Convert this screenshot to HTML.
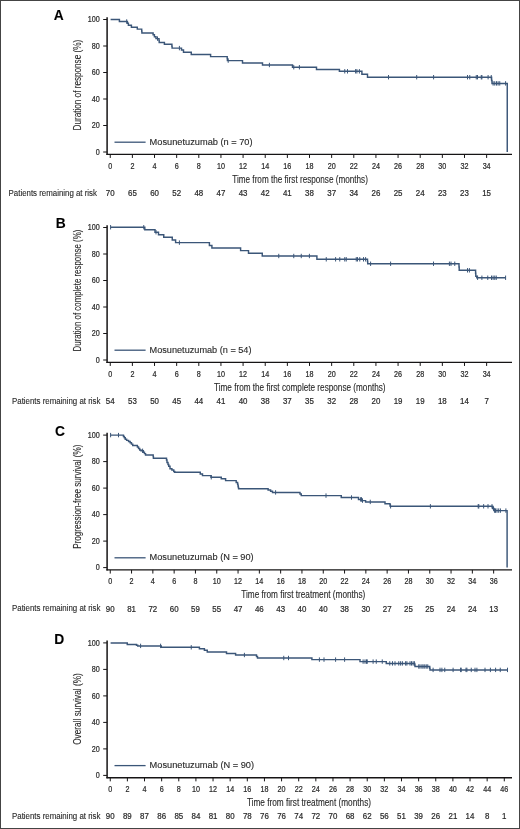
<!DOCTYPE html>
<html><head><meta charset="utf-8"><style>
html,body{margin:0;padding:0;background:#fff;}
svg{display:block;}
text{font-family:"Liberation Sans", sans-serif;stroke:#2a2a2a;stroke-width:0.12px;}
</style></head><body>
<svg style="will-change:transform" width="520" height="829" viewBox="0 0 520 829">
<rect x="0" y="0" width="520" height="829" fill="#fff"/>
<text x="53.8" y="19.6" font-weight="bold" font-size="13.8">A</text>
<line x1="107.1" y1="17.2" x2="107.1" y2="154.95" stroke="#161415" stroke-width="1.5"/>
<line x1="103.2" y1="152" x2="107" y2="152" stroke="#161415" stroke-width="1"/>
<text x="95.8" y="154.6" font-size="8.3" textLength="4" lengthAdjust="spacingAndGlyphs" fill="#2a2a2a" style="stroke-width:0.22px">0</text>
<line x1="103.2" y1="125.5" x2="107" y2="125.5" stroke="#161415" stroke-width="1"/>
<text x="91.8" y="128.1" font-size="8.3" textLength="8" lengthAdjust="spacingAndGlyphs" fill="#2a2a2a" style="stroke-width:0.22px">20</text>
<line x1="103.2" y1="99" x2="107" y2="99" stroke="#161415" stroke-width="1"/>
<text x="91.8" y="101.6" font-size="8.3" textLength="8" lengthAdjust="spacingAndGlyphs" fill="#2a2a2a" style="stroke-width:0.22px">40</text>
<line x1="103.2" y1="72.5" x2="107" y2="72.5" stroke="#161415" stroke-width="1"/>
<text x="91.8" y="75.1" font-size="8.3" textLength="8" lengthAdjust="spacingAndGlyphs" fill="#2a2a2a" style="stroke-width:0.22px">60</text>
<line x1="103.2" y1="46" x2="107" y2="46" stroke="#161415" stroke-width="1"/>
<text x="91.8" y="48.6" font-size="8.3" textLength="8" lengthAdjust="spacingAndGlyphs" fill="#2a2a2a" style="stroke-width:0.22px">80</text>
<line x1="103.2" y1="19.5" x2="107" y2="19.5" stroke="#161415" stroke-width="1"/>
<text x="87.8" y="22.1" font-size="8.3" textLength="12" lengthAdjust="spacingAndGlyphs" fill="#2a2a2a" style="stroke-width:0.22px">100</text>
<line x1="106.4" y1="154.35" x2="512" y2="154.35" stroke="#161415" stroke-width="1.3"/>
<line x1="110.25" y1="154.35" x2="110.25" y2="157.95" stroke="#161415" stroke-width="1"/>
<text x="108.25" y="168.6" font-size="8.3" textLength="4" lengthAdjust="spacingAndGlyphs" fill="#2a2a2a" style="stroke-width:0.22px">0</text>
<text x="105.85" y="195.9" font-size="8.6" textLength="8.8" lengthAdjust="spacingAndGlyphs" fill="#2a2a2a" style="stroke-width:0.22px">70</text>
<line x1="132.39" y1="154.35" x2="132.39" y2="157.95" stroke="#161415" stroke-width="1"/>
<text x="130.39" y="168.6" font-size="8.3" textLength="4" lengthAdjust="spacingAndGlyphs" fill="#2a2a2a" style="stroke-width:0.22px">2</text>
<text x="127.99" y="195.9" font-size="8.6" textLength="8.8" lengthAdjust="spacingAndGlyphs" fill="#2a2a2a" style="stroke-width:0.22px">65</text>
<line x1="154.53" y1="154.35" x2="154.53" y2="157.95" stroke="#161415" stroke-width="1"/>
<text x="152.53" y="168.6" font-size="8.3" textLength="4" lengthAdjust="spacingAndGlyphs" fill="#2a2a2a" style="stroke-width:0.22px">4</text>
<text x="150.13" y="195.9" font-size="8.6" textLength="8.8" lengthAdjust="spacingAndGlyphs" fill="#2a2a2a" style="stroke-width:0.22px">60</text>
<line x1="176.67" y1="154.35" x2="176.67" y2="157.95" stroke="#161415" stroke-width="1"/>
<text x="174.67" y="168.6" font-size="8.3" textLength="4" lengthAdjust="spacingAndGlyphs" fill="#2a2a2a" style="stroke-width:0.22px">6</text>
<text x="172.27" y="195.9" font-size="8.6" textLength="8.8" lengthAdjust="spacingAndGlyphs" fill="#2a2a2a" style="stroke-width:0.22px">52</text>
<line x1="198.81" y1="154.35" x2="198.81" y2="157.95" stroke="#161415" stroke-width="1"/>
<text x="196.81" y="168.6" font-size="8.3" textLength="4" lengthAdjust="spacingAndGlyphs" fill="#2a2a2a" style="stroke-width:0.22px">8</text>
<text x="194.41" y="195.9" font-size="8.6" textLength="8.8" lengthAdjust="spacingAndGlyphs" fill="#2a2a2a" style="stroke-width:0.22px">48</text>
<line x1="220.95" y1="154.35" x2="220.95" y2="157.95" stroke="#161415" stroke-width="1"/>
<text x="216.95" y="168.6" font-size="8.3" textLength="8" lengthAdjust="spacingAndGlyphs" fill="#2a2a2a" style="stroke-width:0.22px">10</text>
<text x="216.55" y="195.9" font-size="8.6" textLength="8.8" lengthAdjust="spacingAndGlyphs" fill="#2a2a2a" style="stroke-width:0.22px">47</text>
<line x1="243.09" y1="154.35" x2="243.09" y2="157.95" stroke="#161415" stroke-width="1"/>
<text x="239.09" y="168.6" font-size="8.3" textLength="8" lengthAdjust="spacingAndGlyphs" fill="#2a2a2a" style="stroke-width:0.22px">12</text>
<text x="238.69" y="195.9" font-size="8.6" textLength="8.8" lengthAdjust="spacingAndGlyphs" fill="#2a2a2a" style="stroke-width:0.22px">43</text>
<line x1="265.23" y1="154.35" x2="265.23" y2="157.95" stroke="#161415" stroke-width="1"/>
<text x="261.23" y="168.6" font-size="8.3" textLength="8" lengthAdjust="spacingAndGlyphs" fill="#2a2a2a" style="stroke-width:0.22px">14</text>
<text x="260.83" y="195.9" font-size="8.6" textLength="8.8" lengthAdjust="spacingAndGlyphs" fill="#2a2a2a" style="stroke-width:0.22px">42</text>
<line x1="287.37" y1="154.35" x2="287.37" y2="157.95" stroke="#161415" stroke-width="1"/>
<text x="283.37" y="168.6" font-size="8.3" textLength="8" lengthAdjust="spacingAndGlyphs" fill="#2a2a2a" style="stroke-width:0.22px">16</text>
<text x="282.97" y="195.9" font-size="8.6" textLength="8.8" lengthAdjust="spacingAndGlyphs" fill="#2a2a2a" style="stroke-width:0.22px">41</text>
<line x1="309.51" y1="154.35" x2="309.51" y2="157.95" stroke="#161415" stroke-width="1"/>
<text x="305.51" y="168.6" font-size="8.3" textLength="8" lengthAdjust="spacingAndGlyphs" fill="#2a2a2a" style="stroke-width:0.22px">18</text>
<text x="305.11" y="195.9" font-size="8.6" textLength="8.8" lengthAdjust="spacingAndGlyphs" fill="#2a2a2a" style="stroke-width:0.22px">38</text>
<line x1="331.65" y1="154.35" x2="331.65" y2="157.95" stroke="#161415" stroke-width="1"/>
<text x="327.65" y="168.6" font-size="8.3" textLength="8" lengthAdjust="spacingAndGlyphs" fill="#2a2a2a" style="stroke-width:0.22px">20</text>
<text x="327.25" y="195.9" font-size="8.6" textLength="8.8" lengthAdjust="spacingAndGlyphs" fill="#2a2a2a" style="stroke-width:0.22px">37</text>
<line x1="353.79" y1="154.35" x2="353.79" y2="157.95" stroke="#161415" stroke-width="1"/>
<text x="349.79" y="168.6" font-size="8.3" textLength="8" lengthAdjust="spacingAndGlyphs" fill="#2a2a2a" style="stroke-width:0.22px">22</text>
<text x="349.39" y="195.9" font-size="8.6" textLength="8.8" lengthAdjust="spacingAndGlyphs" fill="#2a2a2a" style="stroke-width:0.22px">34</text>
<line x1="375.93" y1="154.35" x2="375.93" y2="157.95" stroke="#161415" stroke-width="1"/>
<text x="371.93" y="168.6" font-size="8.3" textLength="8" lengthAdjust="spacingAndGlyphs" fill="#2a2a2a" style="stroke-width:0.22px">24</text>
<text x="371.53" y="195.9" font-size="8.6" textLength="8.8" lengthAdjust="spacingAndGlyphs" fill="#2a2a2a" style="stroke-width:0.22px">26</text>
<line x1="398.07" y1="154.35" x2="398.07" y2="157.95" stroke="#161415" stroke-width="1"/>
<text x="394.07" y="168.6" font-size="8.3" textLength="8" lengthAdjust="spacingAndGlyphs" fill="#2a2a2a" style="stroke-width:0.22px">26</text>
<text x="393.67" y="195.9" font-size="8.6" textLength="8.8" lengthAdjust="spacingAndGlyphs" fill="#2a2a2a" style="stroke-width:0.22px">25</text>
<line x1="420.21" y1="154.35" x2="420.21" y2="157.95" stroke="#161415" stroke-width="1"/>
<text x="416.21" y="168.6" font-size="8.3" textLength="8" lengthAdjust="spacingAndGlyphs" fill="#2a2a2a" style="stroke-width:0.22px">28</text>
<text x="415.81" y="195.9" font-size="8.6" textLength="8.8" lengthAdjust="spacingAndGlyphs" fill="#2a2a2a" style="stroke-width:0.22px">24</text>
<line x1="442.35" y1="154.35" x2="442.35" y2="157.95" stroke="#161415" stroke-width="1"/>
<text x="438.35" y="168.6" font-size="8.3" textLength="8" lengthAdjust="spacingAndGlyphs" fill="#2a2a2a" style="stroke-width:0.22px">30</text>
<text x="437.95" y="195.9" font-size="8.6" textLength="8.8" lengthAdjust="spacingAndGlyphs" fill="#2a2a2a" style="stroke-width:0.22px">23</text>
<line x1="464.49" y1="154.35" x2="464.49" y2="157.95" stroke="#161415" stroke-width="1"/>
<text x="460.49" y="168.6" font-size="8.3" textLength="8" lengthAdjust="spacingAndGlyphs" fill="#2a2a2a" style="stroke-width:0.22px">32</text>
<text x="460.09" y="195.9" font-size="8.6" textLength="8.8" lengthAdjust="spacingAndGlyphs" fill="#2a2a2a" style="stroke-width:0.22px">23</text>
<line x1="486.63" y1="154.35" x2="486.63" y2="157.95" stroke="#161415" stroke-width="1"/>
<text x="482.63" y="168.6" font-size="8.3" textLength="8" lengthAdjust="spacingAndGlyphs" fill="#2a2a2a" style="stroke-width:0.22px">34</text>
<text x="482.23" y="195.9" font-size="8.6" textLength="8.8" lengthAdjust="spacingAndGlyphs" fill="#2a2a2a" style="stroke-width:0.22px">15</text>
<text x="232.3" y="182.5" font-size="10.2" textLength="135.6" lengthAdjust="spacingAndGlyphs" fill="#2a2a2a">Time from the first response (months)</text>
<text transform="translate(80.9,130.5) rotate(-90)" x="0" y="0" font-size="10.4" textLength="90.7" lengthAdjust="spacingAndGlyphs" fill="#2a2a2a">Duration of response (%)</text>
<text x="8.6" y="195.6" font-size="8.3" textLength="88.4" lengthAdjust="spacingAndGlyphs" fill="#2a2a2a">Patients remaining at risk</text>
<line x1="114.5" y1="142.2" x2="145.6" y2="142.2" stroke="#3b5678" stroke-width="1.3"/>
<text x="149.6" y="144.7" font-size="8.5" textLength="103" lengthAdjust="spacingAndGlyphs" fill="#2a2a2a">Mosunetuzumab (n = 70)</text>
<path d="M110.6,19.5H119.4V21.5H127.4V23.3H128.4V25.3H131.4V27.2H137.3V29.1H141.7V31H141.9V33H153.1V34.8H154.4V36.7H156V38.6H159V40.5H159.2V42.4H164.4V44.3H171.9V46.2H172.1V48.1H181.5V50H183.5V52.2H191.25V54.5H210.6V56.6H227.2V58.6H227.4V60.6H242.5V62.9H262.5V65H292.5V67.25H316.5V69.4H339.4V71.3H361.9V74.3H367.5V77.2H491.6V80.4H492V83.4H507.25V152" fill="none" stroke="#3b5678" stroke-width="1.45" stroke-linejoin="miter"/>
<path d="M126.7,19.3V23.7M157.5,36.4V40.8M179.4,45.9V50.3M228.2,58.4V62.8M269.4,62.8V67.2M293.75,65.05V69.45M299.4,65.05V69.45M344.75,69.1V73.5M347.5,69.1V73.5M355.6,69.1V73.5M356.9,69.1V73.5M359.4,69.1V73.5M388.5,75V79.4M416.7,75V79.4M433.6,75V79.4M467.5,75V79.4M469.75,75V79.4M476.25,75V79.4M477.5,75V79.4M481.25,75V79.4M481.9,75V79.4M488.1,75V79.4M491.25,75V79.4M493.1,81.2V85.6M494.75,81.2V85.6M496.5,81.2V85.6M498.1,81.2V85.6M499.75,81.2V85.6M505.6,81.2V85.6" fill="none" stroke="#3b5678" stroke-width="1"/>
<text x="55.8" y="227.8" font-weight="bold" font-size="13.8">B</text>
<line x1="107.1" y1="225.2" x2="107.1" y2="362.95" stroke="#161415" stroke-width="1.5"/>
<line x1="103.2" y1="360" x2="107" y2="360" stroke="#161415" stroke-width="1"/>
<text x="95.8" y="362.6" font-size="8.3" textLength="4" lengthAdjust="spacingAndGlyphs" fill="#2a2a2a" style="stroke-width:0.22px">0</text>
<line x1="103.2" y1="333.5" x2="107" y2="333.5" stroke="#161415" stroke-width="1"/>
<text x="91.8" y="336.1" font-size="8.3" textLength="8" lengthAdjust="spacingAndGlyphs" fill="#2a2a2a" style="stroke-width:0.22px">20</text>
<line x1="103.2" y1="307" x2="107" y2="307" stroke="#161415" stroke-width="1"/>
<text x="91.8" y="309.6" font-size="8.3" textLength="8" lengthAdjust="spacingAndGlyphs" fill="#2a2a2a" style="stroke-width:0.22px">40</text>
<line x1="103.2" y1="280.5" x2="107" y2="280.5" stroke="#161415" stroke-width="1"/>
<text x="91.8" y="283.1" font-size="8.3" textLength="8" lengthAdjust="spacingAndGlyphs" fill="#2a2a2a" style="stroke-width:0.22px">60</text>
<line x1="103.2" y1="254" x2="107" y2="254" stroke="#161415" stroke-width="1"/>
<text x="91.8" y="256.6" font-size="8.3" textLength="8" lengthAdjust="spacingAndGlyphs" fill="#2a2a2a" style="stroke-width:0.22px">80</text>
<line x1="103.2" y1="227.5" x2="107" y2="227.5" stroke="#161415" stroke-width="1"/>
<text x="87.8" y="230.1" font-size="8.3" textLength="12" lengthAdjust="spacingAndGlyphs" fill="#2a2a2a" style="stroke-width:0.22px">100</text>
<line x1="106.4" y1="362.35" x2="512" y2="362.35" stroke="#161415" stroke-width="1.3"/>
<line x1="110.25" y1="362.35" x2="110.25" y2="365.95" stroke="#161415" stroke-width="1"/>
<text x="108.25" y="376.6" font-size="8.3" textLength="4" lengthAdjust="spacingAndGlyphs" fill="#2a2a2a" style="stroke-width:0.22px">0</text>
<text x="105.85" y="403.9" font-size="8.6" textLength="8.8" lengthAdjust="spacingAndGlyphs" fill="#2a2a2a" style="stroke-width:0.22px">54</text>
<line x1="132.39" y1="362.35" x2="132.39" y2="365.95" stroke="#161415" stroke-width="1"/>
<text x="130.39" y="376.6" font-size="8.3" textLength="4" lengthAdjust="spacingAndGlyphs" fill="#2a2a2a" style="stroke-width:0.22px">2</text>
<text x="127.99" y="403.9" font-size="8.6" textLength="8.8" lengthAdjust="spacingAndGlyphs" fill="#2a2a2a" style="stroke-width:0.22px">53</text>
<line x1="154.53" y1="362.35" x2="154.53" y2="365.95" stroke="#161415" stroke-width="1"/>
<text x="152.53" y="376.6" font-size="8.3" textLength="4" lengthAdjust="spacingAndGlyphs" fill="#2a2a2a" style="stroke-width:0.22px">4</text>
<text x="150.13" y="403.9" font-size="8.6" textLength="8.8" lengthAdjust="spacingAndGlyphs" fill="#2a2a2a" style="stroke-width:0.22px">50</text>
<line x1="176.67" y1="362.35" x2="176.67" y2="365.95" stroke="#161415" stroke-width="1"/>
<text x="174.67" y="376.6" font-size="8.3" textLength="4" lengthAdjust="spacingAndGlyphs" fill="#2a2a2a" style="stroke-width:0.22px">6</text>
<text x="172.27" y="403.9" font-size="8.6" textLength="8.8" lengthAdjust="spacingAndGlyphs" fill="#2a2a2a" style="stroke-width:0.22px">45</text>
<line x1="198.81" y1="362.35" x2="198.81" y2="365.95" stroke="#161415" stroke-width="1"/>
<text x="196.81" y="376.6" font-size="8.3" textLength="4" lengthAdjust="spacingAndGlyphs" fill="#2a2a2a" style="stroke-width:0.22px">8</text>
<text x="194.41" y="403.9" font-size="8.6" textLength="8.8" lengthAdjust="spacingAndGlyphs" fill="#2a2a2a" style="stroke-width:0.22px">44</text>
<line x1="220.95" y1="362.35" x2="220.95" y2="365.95" stroke="#161415" stroke-width="1"/>
<text x="216.95" y="376.6" font-size="8.3" textLength="8" lengthAdjust="spacingAndGlyphs" fill="#2a2a2a" style="stroke-width:0.22px">10</text>
<text x="216.55" y="403.9" font-size="8.6" textLength="8.8" lengthAdjust="spacingAndGlyphs" fill="#2a2a2a" style="stroke-width:0.22px">41</text>
<line x1="243.09" y1="362.35" x2="243.09" y2="365.95" stroke="#161415" stroke-width="1"/>
<text x="239.09" y="376.6" font-size="8.3" textLength="8" lengthAdjust="spacingAndGlyphs" fill="#2a2a2a" style="stroke-width:0.22px">12</text>
<text x="238.69" y="403.9" font-size="8.6" textLength="8.8" lengthAdjust="spacingAndGlyphs" fill="#2a2a2a" style="stroke-width:0.22px">40</text>
<line x1="265.23" y1="362.35" x2="265.23" y2="365.95" stroke="#161415" stroke-width="1"/>
<text x="261.23" y="376.6" font-size="8.3" textLength="8" lengthAdjust="spacingAndGlyphs" fill="#2a2a2a" style="stroke-width:0.22px">14</text>
<text x="260.83" y="403.9" font-size="8.6" textLength="8.8" lengthAdjust="spacingAndGlyphs" fill="#2a2a2a" style="stroke-width:0.22px">38</text>
<line x1="287.37" y1="362.35" x2="287.37" y2="365.95" stroke="#161415" stroke-width="1"/>
<text x="283.37" y="376.6" font-size="8.3" textLength="8" lengthAdjust="spacingAndGlyphs" fill="#2a2a2a" style="stroke-width:0.22px">16</text>
<text x="282.97" y="403.9" font-size="8.6" textLength="8.8" lengthAdjust="spacingAndGlyphs" fill="#2a2a2a" style="stroke-width:0.22px">37</text>
<line x1="309.51" y1="362.35" x2="309.51" y2="365.95" stroke="#161415" stroke-width="1"/>
<text x="305.51" y="376.6" font-size="8.3" textLength="8" lengthAdjust="spacingAndGlyphs" fill="#2a2a2a" style="stroke-width:0.22px">18</text>
<text x="305.11" y="403.9" font-size="8.6" textLength="8.8" lengthAdjust="spacingAndGlyphs" fill="#2a2a2a" style="stroke-width:0.22px">35</text>
<line x1="331.65" y1="362.35" x2="331.65" y2="365.95" stroke="#161415" stroke-width="1"/>
<text x="327.65" y="376.6" font-size="8.3" textLength="8" lengthAdjust="spacingAndGlyphs" fill="#2a2a2a" style="stroke-width:0.22px">20</text>
<text x="327.25" y="403.9" font-size="8.6" textLength="8.8" lengthAdjust="spacingAndGlyphs" fill="#2a2a2a" style="stroke-width:0.22px">32</text>
<line x1="353.79" y1="362.35" x2="353.79" y2="365.95" stroke="#161415" stroke-width="1"/>
<text x="349.79" y="376.6" font-size="8.3" textLength="8" lengthAdjust="spacingAndGlyphs" fill="#2a2a2a" style="stroke-width:0.22px">22</text>
<text x="349.39" y="403.9" font-size="8.6" textLength="8.8" lengthAdjust="spacingAndGlyphs" fill="#2a2a2a" style="stroke-width:0.22px">28</text>
<line x1="375.93" y1="362.35" x2="375.93" y2="365.95" stroke="#161415" stroke-width="1"/>
<text x="371.93" y="376.6" font-size="8.3" textLength="8" lengthAdjust="spacingAndGlyphs" fill="#2a2a2a" style="stroke-width:0.22px">24</text>
<text x="371.53" y="403.9" font-size="8.6" textLength="8.8" lengthAdjust="spacingAndGlyphs" fill="#2a2a2a" style="stroke-width:0.22px">20</text>
<line x1="398.07" y1="362.35" x2="398.07" y2="365.95" stroke="#161415" stroke-width="1"/>
<text x="394.07" y="376.6" font-size="8.3" textLength="8" lengthAdjust="spacingAndGlyphs" fill="#2a2a2a" style="stroke-width:0.22px">26</text>
<text x="393.67" y="403.9" font-size="8.6" textLength="8.8" lengthAdjust="spacingAndGlyphs" fill="#2a2a2a" style="stroke-width:0.22px">19</text>
<line x1="420.21" y1="362.35" x2="420.21" y2="365.95" stroke="#161415" stroke-width="1"/>
<text x="416.21" y="376.6" font-size="8.3" textLength="8" lengthAdjust="spacingAndGlyphs" fill="#2a2a2a" style="stroke-width:0.22px">28</text>
<text x="415.81" y="403.9" font-size="8.6" textLength="8.8" lengthAdjust="spacingAndGlyphs" fill="#2a2a2a" style="stroke-width:0.22px">19</text>
<line x1="442.35" y1="362.35" x2="442.35" y2="365.95" stroke="#161415" stroke-width="1"/>
<text x="438.35" y="376.6" font-size="8.3" textLength="8" lengthAdjust="spacingAndGlyphs" fill="#2a2a2a" style="stroke-width:0.22px">30</text>
<text x="437.95" y="403.9" font-size="8.6" textLength="8.8" lengthAdjust="spacingAndGlyphs" fill="#2a2a2a" style="stroke-width:0.22px">18</text>
<line x1="464.49" y1="362.35" x2="464.49" y2="365.95" stroke="#161415" stroke-width="1"/>
<text x="460.49" y="376.6" font-size="8.3" textLength="8" lengthAdjust="spacingAndGlyphs" fill="#2a2a2a" style="stroke-width:0.22px">32</text>
<text x="460.09" y="403.9" font-size="8.6" textLength="8.8" lengthAdjust="spacingAndGlyphs" fill="#2a2a2a" style="stroke-width:0.22px">14</text>
<line x1="486.63" y1="362.35" x2="486.63" y2="365.95" stroke="#161415" stroke-width="1"/>
<text x="482.63" y="376.6" font-size="8.3" textLength="8" lengthAdjust="spacingAndGlyphs" fill="#2a2a2a" style="stroke-width:0.22px">34</text>
<text x="484.43" y="403.9" font-size="8.6" textLength="4.4" lengthAdjust="spacingAndGlyphs" fill="#2a2a2a" style="stroke-width:0.22px">7</text>
<text x="214" y="390.5" font-size="10.2" textLength="171.6" lengthAdjust="spacingAndGlyphs" fill="#2a2a2a">Time from the first complete response (months)</text>
<text transform="translate(80.9,351.4) rotate(-90)" x="0" y="0" font-size="10.4" textLength="121.7" lengthAdjust="spacingAndGlyphs" fill="#2a2a2a">Duration of complete response (%)</text>
<text x="12" y="403.6" font-size="8.3" textLength="88.4" lengthAdjust="spacingAndGlyphs" fill="#2a2a2a">Patients remaining at risk</text>
<line x1="114.5" y1="350.2" x2="145.6" y2="350.2" stroke="#3b5678" stroke-width="1.3"/>
<text x="149.6" y="352.7" font-size="8.5" textLength="101.9" lengthAdjust="spacingAndGlyphs" fill="#2a2a2a">Mosunetuzumab (n = 54)</text>
<path d="M110.6,227.25H144.8V229.75H155V232.2H158.5V234.75H163.75V237.25H172.25V240H175.6V242.6H209.4V245.4H211.9V248H240.6V250.6H248.5V253.3H262.25V256H316.9V259.3H367.5V261.5H367.7V263.75H459V267H459.2V270.3H475.6V273.3H475.8V276.25H476.8V277.75H505.6" fill="none" stroke="#3b5678" stroke-width="1.45" stroke-linejoin="miter"/>
<path d="M110.6,225.05V229.45M143.75,225.05V229.45M156,230V234.4M179.4,240.4V244.8M278.75,253.8V258.2M293.75,253.8V258.2M301.25,253.8V258.2M309.4,253.8V258.2M326.25,257.1V261.5M335.6,257.1V261.5M339.75,257.1V261.5M344.75,257.1V261.5M346.25,257.1V261.5M356.25,257.1V261.5M357.5,257.1V261.5M359.75,257.1V261.5M363.5,257.1V261.5M365.6,257.1V261.5M370.6,261.55V265.95M390.6,261.55V265.95M433.5,261.55V265.95M449.4,261.55V265.95M451,261.55V265.95M454.75,261.55V265.95M467.5,268.1V272.5M469.4,268.1V272.5M477.6,275.55V279.95M481.9,275.55V279.95M487.75,275.55V279.95M491.5,275.55V279.95M493.1,275.55V279.95M494.75,275.55V279.95M496.25,275.55V279.95M505.6,275.55V279.95" fill="none" stroke="#3b5678" stroke-width="1"/>
<text x="55" y="436.1" font-weight="bold" font-size="13.8">C</text>
<line x1="107.1" y1="432.8" x2="107.1" y2="570.55" stroke="#161415" stroke-width="1.5"/>
<line x1="103.2" y1="567.6" x2="107" y2="567.6" stroke="#161415" stroke-width="1"/>
<text x="95.8" y="570.2" font-size="8.3" textLength="4" lengthAdjust="spacingAndGlyphs" fill="#2a2a2a" style="stroke-width:0.22px">0</text>
<line x1="103.2" y1="541.1" x2="107" y2="541.1" stroke="#161415" stroke-width="1"/>
<text x="91.8" y="543.7" font-size="8.3" textLength="8" lengthAdjust="spacingAndGlyphs" fill="#2a2a2a" style="stroke-width:0.22px">20</text>
<line x1="103.2" y1="514.6" x2="107" y2="514.6" stroke="#161415" stroke-width="1"/>
<text x="91.8" y="517.2" font-size="8.3" textLength="8" lengthAdjust="spacingAndGlyphs" fill="#2a2a2a" style="stroke-width:0.22px">40</text>
<line x1="103.2" y1="488.1" x2="107" y2="488.1" stroke="#161415" stroke-width="1"/>
<text x="91.8" y="490.7" font-size="8.3" textLength="8" lengthAdjust="spacingAndGlyphs" fill="#2a2a2a" style="stroke-width:0.22px">60</text>
<line x1="103.2" y1="461.6" x2="107" y2="461.6" stroke="#161415" stroke-width="1"/>
<text x="91.8" y="464.2" font-size="8.3" textLength="8" lengthAdjust="spacingAndGlyphs" fill="#2a2a2a" style="stroke-width:0.22px">80</text>
<line x1="103.2" y1="435.1" x2="107" y2="435.1" stroke="#161415" stroke-width="1"/>
<text x="87.8" y="437.7" font-size="8.3" textLength="12" lengthAdjust="spacingAndGlyphs" fill="#2a2a2a" style="stroke-width:0.22px">100</text>
<line x1="106.4" y1="569.95" x2="512" y2="569.95" stroke="#161415" stroke-width="1.3"/>
<line x1="110.25" y1="569.95" x2="110.25" y2="573.55" stroke="#161415" stroke-width="1"/>
<text x="108.25" y="584.2" font-size="8.3" textLength="4" lengthAdjust="spacingAndGlyphs" fill="#2a2a2a" style="stroke-width:0.22px">0</text>
<text x="105.85" y="611.5" font-size="8.6" textLength="8.8" lengthAdjust="spacingAndGlyphs" fill="#2a2a2a" style="stroke-width:0.22px">90</text>
<line x1="131.55" y1="569.95" x2="131.55" y2="573.55" stroke="#161415" stroke-width="1"/>
<text x="129.55" y="584.2" font-size="8.3" textLength="4" lengthAdjust="spacingAndGlyphs" fill="#2a2a2a" style="stroke-width:0.22px">2</text>
<text x="127.15" y="611.5" font-size="8.6" textLength="8.8" lengthAdjust="spacingAndGlyphs" fill="#2a2a2a" style="stroke-width:0.22px">81</text>
<line x1="152.85" y1="569.95" x2="152.85" y2="573.55" stroke="#161415" stroke-width="1"/>
<text x="150.85" y="584.2" font-size="8.3" textLength="4" lengthAdjust="spacingAndGlyphs" fill="#2a2a2a" style="stroke-width:0.22px">4</text>
<text x="148.45" y="611.5" font-size="8.6" textLength="8.8" lengthAdjust="spacingAndGlyphs" fill="#2a2a2a" style="stroke-width:0.22px">72</text>
<line x1="174.15" y1="569.95" x2="174.15" y2="573.55" stroke="#161415" stroke-width="1"/>
<text x="172.15" y="584.2" font-size="8.3" textLength="4" lengthAdjust="spacingAndGlyphs" fill="#2a2a2a" style="stroke-width:0.22px">6</text>
<text x="169.75" y="611.5" font-size="8.6" textLength="8.8" lengthAdjust="spacingAndGlyphs" fill="#2a2a2a" style="stroke-width:0.22px">60</text>
<line x1="195.45" y1="569.95" x2="195.45" y2="573.55" stroke="#161415" stroke-width="1"/>
<text x="193.45" y="584.2" font-size="8.3" textLength="4" lengthAdjust="spacingAndGlyphs" fill="#2a2a2a" style="stroke-width:0.22px">8</text>
<text x="191.05" y="611.5" font-size="8.6" textLength="8.8" lengthAdjust="spacingAndGlyphs" fill="#2a2a2a" style="stroke-width:0.22px">59</text>
<line x1="216.75" y1="569.95" x2="216.75" y2="573.55" stroke="#161415" stroke-width="1"/>
<text x="212.75" y="584.2" font-size="8.3" textLength="8" lengthAdjust="spacingAndGlyphs" fill="#2a2a2a" style="stroke-width:0.22px">10</text>
<text x="212.35" y="611.5" font-size="8.6" textLength="8.8" lengthAdjust="spacingAndGlyphs" fill="#2a2a2a" style="stroke-width:0.22px">55</text>
<line x1="238.05" y1="569.95" x2="238.05" y2="573.55" stroke="#161415" stroke-width="1"/>
<text x="234.05" y="584.2" font-size="8.3" textLength="8" lengthAdjust="spacingAndGlyphs" fill="#2a2a2a" style="stroke-width:0.22px">12</text>
<text x="233.65" y="611.5" font-size="8.6" textLength="8.8" lengthAdjust="spacingAndGlyphs" fill="#2a2a2a" style="stroke-width:0.22px">47</text>
<line x1="259.35" y1="569.95" x2="259.35" y2="573.55" stroke="#161415" stroke-width="1"/>
<text x="255.35" y="584.2" font-size="8.3" textLength="8" lengthAdjust="spacingAndGlyphs" fill="#2a2a2a" style="stroke-width:0.22px">14</text>
<text x="254.95" y="611.5" font-size="8.6" textLength="8.8" lengthAdjust="spacingAndGlyphs" fill="#2a2a2a" style="stroke-width:0.22px">46</text>
<line x1="280.65" y1="569.95" x2="280.65" y2="573.55" stroke="#161415" stroke-width="1"/>
<text x="276.65" y="584.2" font-size="8.3" textLength="8" lengthAdjust="spacingAndGlyphs" fill="#2a2a2a" style="stroke-width:0.22px">16</text>
<text x="276.25" y="611.5" font-size="8.6" textLength="8.8" lengthAdjust="spacingAndGlyphs" fill="#2a2a2a" style="stroke-width:0.22px">43</text>
<line x1="301.95" y1="569.95" x2="301.95" y2="573.55" stroke="#161415" stroke-width="1"/>
<text x="297.95" y="584.2" font-size="8.3" textLength="8" lengthAdjust="spacingAndGlyphs" fill="#2a2a2a" style="stroke-width:0.22px">18</text>
<text x="297.55" y="611.5" font-size="8.6" textLength="8.8" lengthAdjust="spacingAndGlyphs" fill="#2a2a2a" style="stroke-width:0.22px">40</text>
<line x1="323.25" y1="569.95" x2="323.25" y2="573.55" stroke="#161415" stroke-width="1"/>
<text x="319.25" y="584.2" font-size="8.3" textLength="8" lengthAdjust="spacingAndGlyphs" fill="#2a2a2a" style="stroke-width:0.22px">20</text>
<text x="318.85" y="611.5" font-size="8.6" textLength="8.8" lengthAdjust="spacingAndGlyphs" fill="#2a2a2a" style="stroke-width:0.22px">40</text>
<line x1="344.55" y1="569.95" x2="344.55" y2="573.55" stroke="#161415" stroke-width="1"/>
<text x="340.55" y="584.2" font-size="8.3" textLength="8" lengthAdjust="spacingAndGlyphs" fill="#2a2a2a" style="stroke-width:0.22px">22</text>
<text x="340.15" y="611.5" font-size="8.6" textLength="8.8" lengthAdjust="spacingAndGlyphs" fill="#2a2a2a" style="stroke-width:0.22px">38</text>
<line x1="365.85" y1="569.95" x2="365.85" y2="573.55" stroke="#161415" stroke-width="1"/>
<text x="361.85" y="584.2" font-size="8.3" textLength="8" lengthAdjust="spacingAndGlyphs" fill="#2a2a2a" style="stroke-width:0.22px">24</text>
<text x="361.45" y="611.5" font-size="8.6" textLength="8.8" lengthAdjust="spacingAndGlyphs" fill="#2a2a2a" style="stroke-width:0.22px">30</text>
<line x1="387.15" y1="569.95" x2="387.15" y2="573.55" stroke="#161415" stroke-width="1"/>
<text x="383.15" y="584.2" font-size="8.3" textLength="8" lengthAdjust="spacingAndGlyphs" fill="#2a2a2a" style="stroke-width:0.22px">26</text>
<text x="382.75" y="611.5" font-size="8.6" textLength="8.8" lengthAdjust="spacingAndGlyphs" fill="#2a2a2a" style="stroke-width:0.22px">27</text>
<line x1="408.45" y1="569.95" x2="408.45" y2="573.55" stroke="#161415" stroke-width="1"/>
<text x="404.45" y="584.2" font-size="8.3" textLength="8" lengthAdjust="spacingAndGlyphs" fill="#2a2a2a" style="stroke-width:0.22px">28</text>
<text x="404.05" y="611.5" font-size="8.6" textLength="8.8" lengthAdjust="spacingAndGlyphs" fill="#2a2a2a" style="stroke-width:0.22px">25</text>
<line x1="429.75" y1="569.95" x2="429.75" y2="573.55" stroke="#161415" stroke-width="1"/>
<text x="425.75" y="584.2" font-size="8.3" textLength="8" lengthAdjust="spacingAndGlyphs" fill="#2a2a2a" style="stroke-width:0.22px">30</text>
<text x="425.35" y="611.5" font-size="8.6" textLength="8.8" lengthAdjust="spacingAndGlyphs" fill="#2a2a2a" style="stroke-width:0.22px">25</text>
<line x1="451.05" y1="569.95" x2="451.05" y2="573.55" stroke="#161415" stroke-width="1"/>
<text x="447.05" y="584.2" font-size="8.3" textLength="8" lengthAdjust="spacingAndGlyphs" fill="#2a2a2a" style="stroke-width:0.22px">32</text>
<text x="446.65" y="611.5" font-size="8.6" textLength="8.8" lengthAdjust="spacingAndGlyphs" fill="#2a2a2a" style="stroke-width:0.22px">24</text>
<line x1="472.35" y1="569.95" x2="472.35" y2="573.55" stroke="#161415" stroke-width="1"/>
<text x="468.35" y="584.2" font-size="8.3" textLength="8" lengthAdjust="spacingAndGlyphs" fill="#2a2a2a" style="stroke-width:0.22px">34</text>
<text x="467.95" y="611.5" font-size="8.6" textLength="8.8" lengthAdjust="spacingAndGlyphs" fill="#2a2a2a" style="stroke-width:0.22px">24</text>
<line x1="493.65" y1="569.95" x2="493.65" y2="573.55" stroke="#161415" stroke-width="1"/>
<text x="489.65" y="584.2" font-size="8.3" textLength="8" lengthAdjust="spacingAndGlyphs" fill="#2a2a2a" style="stroke-width:0.22px">36</text>
<text x="489.25" y="611.5" font-size="8.6" textLength="8.8" lengthAdjust="spacingAndGlyphs" fill="#2a2a2a" style="stroke-width:0.22px">13</text>
<text x="241.25" y="598.1" font-size="10.2" textLength="124" lengthAdjust="spacingAndGlyphs" fill="#2a2a2a">Time from first treatment (months)</text>
<text transform="translate(80.9,548.7) rotate(-90)" x="0" y="0" font-size="10.4" textLength="104.1" lengthAdjust="spacingAndGlyphs" fill="#2a2a2a">Progression-free survival (%)</text>
<text x="12" y="611.2" font-size="8.3" textLength="88.4" lengthAdjust="spacingAndGlyphs" fill="#2a2a2a">Patients remaining at risk</text>
<line x1="114.5" y1="557.8" x2="145.6" y2="557.8" stroke="#3b5678" stroke-width="1.3"/>
<text x="149.6" y="560.3" font-size="8.5" textLength="104.05" lengthAdjust="spacingAndGlyphs" fill="#2a2a2a">Mosunetuzumab (N = 90)</text>
<path d="M110.6,435.1H123.45V436.47H124.35V437.83H125.25V439.2H126.65V440.35H128.55V441.5H130.15V442.8H131.45V444.1H132.75V445.4H137.38V446.93H138.55V448.47H139.72V450H141V450.8H143.35V452.2H144.45V453.6H145.55V455H153.2V456.6H153.4V458.2H166.5V460H167V462.5H168V464.5H168.75V466.25H170V468.75H171.9V470H173.75V471.5H174.75V472.25H200.25V474H202.5V475.6H211V477.25H221.25V478.75H225.6V480.6H236.2V482.5H237.6V484.2H238V486H238.3V487.5H238.6V488.75H268.1V490H270.6V491.25H272.5V492.4H300V494H301.25V495.6H341.25V497.5H358.5V499.4H362V500.6H365.6V501.9H385V503.75H390V505H390.2V506.3H492.65V508.5H494V510.6H507.1V567.6" fill="none" stroke="#3b5678" stroke-width="1.45" stroke-linejoin="miter"/>
<path d="M110.6,432.9V437.3M118.5,432.9V437.3M142.6,448.6V453M211.25,475.05V479.45M275.6,490.2V494.6M326,493.4V497.8M351.5,495.3V499.7M360.6,497.2V501.6M361.5,497.2V501.6M362.5,498.4V502.8M370.25,499.7V504.1M390.6,504.1V508.5M430.4,504.1V508.5M478.2,504.1V508.5M478.8,504.1V508.5M483.65,504.1V508.5M488,504.1V508.5M492,504.1V508.5M493.5,506.3V510.7M494.6,508.4V512.8M495.5,508.4V512.8M497,508.4V512.8M498.7,508.4V512.8M500.4,508.4V512.8M505.9,508.4V512.8" fill="none" stroke="#3b5678" stroke-width="1"/>
<text x="54.2" y="643.9" font-weight="bold" font-size="13.8">D</text>
<line x1="107.1" y1="640.6" x2="107.1" y2="778.35" stroke="#161415" stroke-width="1.5"/>
<line x1="103.2" y1="775.4" x2="107" y2="775.4" stroke="#161415" stroke-width="1"/>
<text x="95.8" y="778" font-size="8.3" textLength="4" lengthAdjust="spacingAndGlyphs" fill="#2a2a2a" style="stroke-width:0.22px">0</text>
<line x1="103.2" y1="748.9" x2="107" y2="748.9" stroke="#161415" stroke-width="1"/>
<text x="91.8" y="751.5" font-size="8.3" textLength="8" lengthAdjust="spacingAndGlyphs" fill="#2a2a2a" style="stroke-width:0.22px">20</text>
<line x1="103.2" y1="722.4" x2="107" y2="722.4" stroke="#161415" stroke-width="1"/>
<text x="91.8" y="725" font-size="8.3" textLength="8" lengthAdjust="spacingAndGlyphs" fill="#2a2a2a" style="stroke-width:0.22px">40</text>
<line x1="103.2" y1="695.9" x2="107" y2="695.9" stroke="#161415" stroke-width="1"/>
<text x="91.8" y="698.5" font-size="8.3" textLength="8" lengthAdjust="spacingAndGlyphs" fill="#2a2a2a" style="stroke-width:0.22px">60</text>
<line x1="103.2" y1="669.4" x2="107" y2="669.4" stroke="#161415" stroke-width="1"/>
<text x="91.8" y="672" font-size="8.3" textLength="8" lengthAdjust="spacingAndGlyphs" fill="#2a2a2a" style="stroke-width:0.22px">80</text>
<line x1="103.2" y1="642.9" x2="107" y2="642.9" stroke="#161415" stroke-width="1"/>
<text x="87.8" y="645.5" font-size="8.3" textLength="12" lengthAdjust="spacingAndGlyphs" fill="#2a2a2a" style="stroke-width:0.22px">100</text>
<line x1="106.4" y1="777.75" x2="512" y2="777.75" stroke="#161415" stroke-width="1.3"/>
<line x1="110.25" y1="777.75" x2="110.25" y2="781.35" stroke="#161415" stroke-width="1"/>
<text x="108.25" y="792" font-size="8.3" textLength="4" lengthAdjust="spacingAndGlyphs" fill="#2a2a2a" style="stroke-width:0.22px">0</text>
<text x="105.85" y="819.3" font-size="8.6" textLength="8.8" lengthAdjust="spacingAndGlyphs" fill="#2a2a2a" style="stroke-width:0.22px">90</text>
<line x1="127.38" y1="777.75" x2="127.38" y2="781.35" stroke="#161415" stroke-width="1"/>
<text x="125.38" y="792" font-size="8.3" textLength="4" lengthAdjust="spacingAndGlyphs" fill="#2a2a2a" style="stroke-width:0.22px">2</text>
<text x="122.98" y="819.3" font-size="8.6" textLength="8.8" lengthAdjust="spacingAndGlyphs" fill="#2a2a2a" style="stroke-width:0.22px">89</text>
<line x1="144.51" y1="777.75" x2="144.51" y2="781.35" stroke="#161415" stroke-width="1"/>
<text x="142.51" y="792" font-size="8.3" textLength="4" lengthAdjust="spacingAndGlyphs" fill="#2a2a2a" style="stroke-width:0.22px">4</text>
<text x="140.11" y="819.3" font-size="8.6" textLength="8.8" lengthAdjust="spacingAndGlyphs" fill="#2a2a2a" style="stroke-width:0.22px">87</text>
<line x1="161.65" y1="777.75" x2="161.65" y2="781.35" stroke="#161415" stroke-width="1"/>
<text x="159.65" y="792" font-size="8.3" textLength="4" lengthAdjust="spacingAndGlyphs" fill="#2a2a2a" style="stroke-width:0.22px">6</text>
<text x="157.25" y="819.3" font-size="8.6" textLength="8.8" lengthAdjust="spacingAndGlyphs" fill="#2a2a2a" style="stroke-width:0.22px">86</text>
<line x1="178.78" y1="777.75" x2="178.78" y2="781.35" stroke="#161415" stroke-width="1"/>
<text x="176.78" y="792" font-size="8.3" textLength="4" lengthAdjust="spacingAndGlyphs" fill="#2a2a2a" style="stroke-width:0.22px">8</text>
<text x="174.38" y="819.3" font-size="8.6" textLength="8.8" lengthAdjust="spacingAndGlyphs" fill="#2a2a2a" style="stroke-width:0.22px">85</text>
<line x1="195.91" y1="777.75" x2="195.91" y2="781.35" stroke="#161415" stroke-width="1"/>
<text x="191.91" y="792" font-size="8.3" textLength="8" lengthAdjust="spacingAndGlyphs" fill="#2a2a2a" style="stroke-width:0.22px">10</text>
<text x="191.51" y="819.3" font-size="8.6" textLength="8.8" lengthAdjust="spacingAndGlyphs" fill="#2a2a2a" style="stroke-width:0.22px">84</text>
<line x1="213.04" y1="777.75" x2="213.04" y2="781.35" stroke="#161415" stroke-width="1"/>
<text x="209.04" y="792" font-size="8.3" textLength="8" lengthAdjust="spacingAndGlyphs" fill="#2a2a2a" style="stroke-width:0.22px">12</text>
<text x="208.64" y="819.3" font-size="8.6" textLength="8.8" lengthAdjust="spacingAndGlyphs" fill="#2a2a2a" style="stroke-width:0.22px">81</text>
<line x1="230.17" y1="777.75" x2="230.17" y2="781.35" stroke="#161415" stroke-width="1"/>
<text x="226.17" y="792" font-size="8.3" textLength="8" lengthAdjust="spacingAndGlyphs" fill="#2a2a2a" style="stroke-width:0.22px">14</text>
<text x="225.77" y="819.3" font-size="8.6" textLength="8.8" lengthAdjust="spacingAndGlyphs" fill="#2a2a2a" style="stroke-width:0.22px">80</text>
<line x1="247.31" y1="777.75" x2="247.31" y2="781.35" stroke="#161415" stroke-width="1"/>
<text x="243.31" y="792" font-size="8.3" textLength="8" lengthAdjust="spacingAndGlyphs" fill="#2a2a2a" style="stroke-width:0.22px">16</text>
<text x="242.91" y="819.3" font-size="8.6" textLength="8.8" lengthAdjust="spacingAndGlyphs" fill="#2a2a2a" style="stroke-width:0.22px">78</text>
<line x1="264.44" y1="777.75" x2="264.44" y2="781.35" stroke="#161415" stroke-width="1"/>
<text x="260.44" y="792" font-size="8.3" textLength="8" lengthAdjust="spacingAndGlyphs" fill="#2a2a2a" style="stroke-width:0.22px">18</text>
<text x="260.04" y="819.3" font-size="8.6" textLength="8.8" lengthAdjust="spacingAndGlyphs" fill="#2a2a2a" style="stroke-width:0.22px">76</text>
<line x1="281.57" y1="777.75" x2="281.57" y2="781.35" stroke="#161415" stroke-width="1"/>
<text x="277.57" y="792" font-size="8.3" textLength="8" lengthAdjust="spacingAndGlyphs" fill="#2a2a2a" style="stroke-width:0.22px">20</text>
<text x="277.17" y="819.3" font-size="8.6" textLength="8.8" lengthAdjust="spacingAndGlyphs" fill="#2a2a2a" style="stroke-width:0.22px">76</text>
<line x1="298.7" y1="777.75" x2="298.7" y2="781.35" stroke="#161415" stroke-width="1"/>
<text x="294.7" y="792" font-size="8.3" textLength="8" lengthAdjust="spacingAndGlyphs" fill="#2a2a2a" style="stroke-width:0.22px">22</text>
<text x="294.3" y="819.3" font-size="8.6" textLength="8.8" lengthAdjust="spacingAndGlyphs" fill="#2a2a2a" style="stroke-width:0.22px">74</text>
<line x1="315.83" y1="777.75" x2="315.83" y2="781.35" stroke="#161415" stroke-width="1"/>
<text x="311.83" y="792" font-size="8.3" textLength="8" lengthAdjust="spacingAndGlyphs" fill="#2a2a2a" style="stroke-width:0.22px">24</text>
<text x="311.43" y="819.3" font-size="8.6" textLength="8.8" lengthAdjust="spacingAndGlyphs" fill="#2a2a2a" style="stroke-width:0.22px">72</text>
<line x1="332.97" y1="777.75" x2="332.97" y2="781.35" stroke="#161415" stroke-width="1"/>
<text x="328.97" y="792" font-size="8.3" textLength="8" lengthAdjust="spacingAndGlyphs" fill="#2a2a2a" style="stroke-width:0.22px">26</text>
<text x="328.57" y="819.3" font-size="8.6" textLength="8.8" lengthAdjust="spacingAndGlyphs" fill="#2a2a2a" style="stroke-width:0.22px">70</text>
<line x1="350.1" y1="777.75" x2="350.1" y2="781.35" stroke="#161415" stroke-width="1"/>
<text x="346.1" y="792" font-size="8.3" textLength="8" lengthAdjust="spacingAndGlyphs" fill="#2a2a2a" style="stroke-width:0.22px">28</text>
<text x="345.7" y="819.3" font-size="8.6" textLength="8.8" lengthAdjust="spacingAndGlyphs" fill="#2a2a2a" style="stroke-width:0.22px">68</text>
<line x1="367.23" y1="777.75" x2="367.23" y2="781.35" stroke="#161415" stroke-width="1"/>
<text x="363.23" y="792" font-size="8.3" textLength="8" lengthAdjust="spacingAndGlyphs" fill="#2a2a2a" style="stroke-width:0.22px">30</text>
<text x="362.83" y="819.3" font-size="8.6" textLength="8.8" lengthAdjust="spacingAndGlyphs" fill="#2a2a2a" style="stroke-width:0.22px">62</text>
<line x1="384.36" y1="777.75" x2="384.36" y2="781.35" stroke="#161415" stroke-width="1"/>
<text x="380.36" y="792" font-size="8.3" textLength="8" lengthAdjust="spacingAndGlyphs" fill="#2a2a2a" style="stroke-width:0.22px">32</text>
<text x="379.96" y="819.3" font-size="8.6" textLength="8.8" lengthAdjust="spacingAndGlyphs" fill="#2a2a2a" style="stroke-width:0.22px">56</text>
<line x1="401.49" y1="777.75" x2="401.49" y2="781.35" stroke="#161415" stroke-width="1"/>
<text x="397.49" y="792" font-size="8.3" textLength="8" lengthAdjust="spacingAndGlyphs" fill="#2a2a2a" style="stroke-width:0.22px">34</text>
<text x="397.09" y="819.3" font-size="8.6" textLength="8.8" lengthAdjust="spacingAndGlyphs" fill="#2a2a2a" style="stroke-width:0.22px">51</text>
<line x1="418.63" y1="777.75" x2="418.63" y2="781.35" stroke="#161415" stroke-width="1"/>
<text x="414.63" y="792" font-size="8.3" textLength="8" lengthAdjust="spacingAndGlyphs" fill="#2a2a2a" style="stroke-width:0.22px">36</text>
<text x="414.23" y="819.3" font-size="8.6" textLength="8.8" lengthAdjust="spacingAndGlyphs" fill="#2a2a2a" style="stroke-width:0.22px">39</text>
<line x1="435.76" y1="777.75" x2="435.76" y2="781.35" stroke="#161415" stroke-width="1"/>
<text x="431.76" y="792" font-size="8.3" textLength="8" lengthAdjust="spacingAndGlyphs" fill="#2a2a2a" style="stroke-width:0.22px">38</text>
<text x="431.36" y="819.3" font-size="8.6" textLength="8.8" lengthAdjust="spacingAndGlyphs" fill="#2a2a2a" style="stroke-width:0.22px">26</text>
<line x1="452.89" y1="777.75" x2="452.89" y2="781.35" stroke="#161415" stroke-width="1"/>
<text x="448.89" y="792" font-size="8.3" textLength="8" lengthAdjust="spacingAndGlyphs" fill="#2a2a2a" style="stroke-width:0.22px">40</text>
<text x="448.49" y="819.3" font-size="8.6" textLength="8.8" lengthAdjust="spacingAndGlyphs" fill="#2a2a2a" style="stroke-width:0.22px">21</text>
<line x1="470.02" y1="777.75" x2="470.02" y2="781.35" stroke="#161415" stroke-width="1"/>
<text x="466.02" y="792" font-size="8.3" textLength="8" lengthAdjust="spacingAndGlyphs" fill="#2a2a2a" style="stroke-width:0.22px">42</text>
<text x="465.62" y="819.3" font-size="8.6" textLength="8.8" lengthAdjust="spacingAndGlyphs" fill="#2a2a2a" style="stroke-width:0.22px">14</text>
<line x1="487.15" y1="777.75" x2="487.15" y2="781.35" stroke="#161415" stroke-width="1"/>
<text x="483.15" y="792" font-size="8.3" textLength="8" lengthAdjust="spacingAndGlyphs" fill="#2a2a2a" style="stroke-width:0.22px">44</text>
<text x="484.95" y="819.3" font-size="8.6" textLength="4.4" lengthAdjust="spacingAndGlyphs" fill="#2a2a2a" style="stroke-width:0.22px">8</text>
<line x1="504.29" y1="777.75" x2="504.29" y2="781.35" stroke="#161415" stroke-width="1"/>
<text x="500.29" y="792" font-size="8.3" textLength="8" lengthAdjust="spacingAndGlyphs" fill="#2a2a2a" style="stroke-width:0.22px">46</text>
<text x="502.09" y="819.3" font-size="8.6" textLength="4.4" lengthAdjust="spacingAndGlyphs" fill="#2a2a2a" style="stroke-width:0.22px">1</text>
<text x="246.9" y="805.9" font-size="10.2" textLength="124.1" lengthAdjust="spacingAndGlyphs" fill="#2a2a2a">Time from first treatment (months)</text>
<text transform="translate(80.9,744.8) rotate(-90)" x="0" y="0" font-size="10.4" textLength="71.6" lengthAdjust="spacingAndGlyphs" fill="#2a2a2a">Overall survival (%)</text>
<text x="12" y="819" font-size="8.3" textLength="88.4" lengthAdjust="spacingAndGlyphs" fill="#2a2a2a">Patients remaining at risk</text>
<line x1="114.5" y1="765.6" x2="145.6" y2="765.6" stroke="#3b5678" stroke-width="1.3"/>
<text x="149.6" y="768.1" font-size="8.5" textLength="104.4" lengthAdjust="spacingAndGlyphs" fill="#2a2a2a">Mosunetuzumab (N = 90)</text>
<path d="M110.6,643H127.25V644.4H136.5V645.2H137.75V645.9H161.25V647.3H199.4V648.75H204.4V650.25H207.25V651.9H226.5V653.4H235.6V655H256.5V656.5H257.5V658H311.9V659.6H360V661.6H386.25V663.4H414.75V665H415V666.5H429.75V668.2H430V669.9H507.5" fill="none" stroke="#3b5678" stroke-width="1.45" stroke-linejoin="miter"/>
<path d="M140.6,643.7V648.1M160.6,643.7V648.1M191.25,645.1V649.5M244.4,652.8V657.2M283.75,655.8V660.2M288.5,655.8V660.2M319.4,657.4V661.8M324,657.4V661.8M335.6,657.4V661.8M344.6,657.4V661.8M363.1,659.4V663.8M365,659.4V663.8M366.5,659.4V663.8M367.25,659.4V663.8M373.1,659.4V663.8M376.25,659.4V663.8M382.25,659.4V663.8M389.75,661.2V665.6M392.5,661.2V665.6M395,661.2V665.6M398.75,661.2V665.6M400.6,661.2V665.6M402.4,661.2V665.6M405.6,661.2V665.6M406.9,661.2V665.6M410,661.2V665.6M411.5,661.2V665.6M413.1,661.2V665.6M414.4,661.2V665.6M418.75,664.3V668.7M420,664.3V668.7M421.9,664.3V668.7M423.1,664.3V668.7M424.75,664.3V668.7M426.25,664.3V668.7M427.75,664.3V668.7M433.1,667.7V672.1M440,667.7V672.1M441.9,667.7V672.1M444.75,667.7V672.1M453.1,667.7V672.1M460.6,667.7V672.1M461.2,667.7V672.1M466,667.7V672.1M466.9,667.7V672.1M471.25,667.7V672.1M475,667.7V672.1M476.9,667.7V672.1M485,667.7V672.1M490.4,667.7V672.1M495.6,667.7V672.1M500.25,667.7V672.1M507.5,667.7V672.1" fill="none" stroke="#3b5678" stroke-width="1"/>
<rect x="0.5" y="0.5" width="519" height="828" fill="none" stroke="#444" stroke-width="1"/>
</svg>
</body></html>
